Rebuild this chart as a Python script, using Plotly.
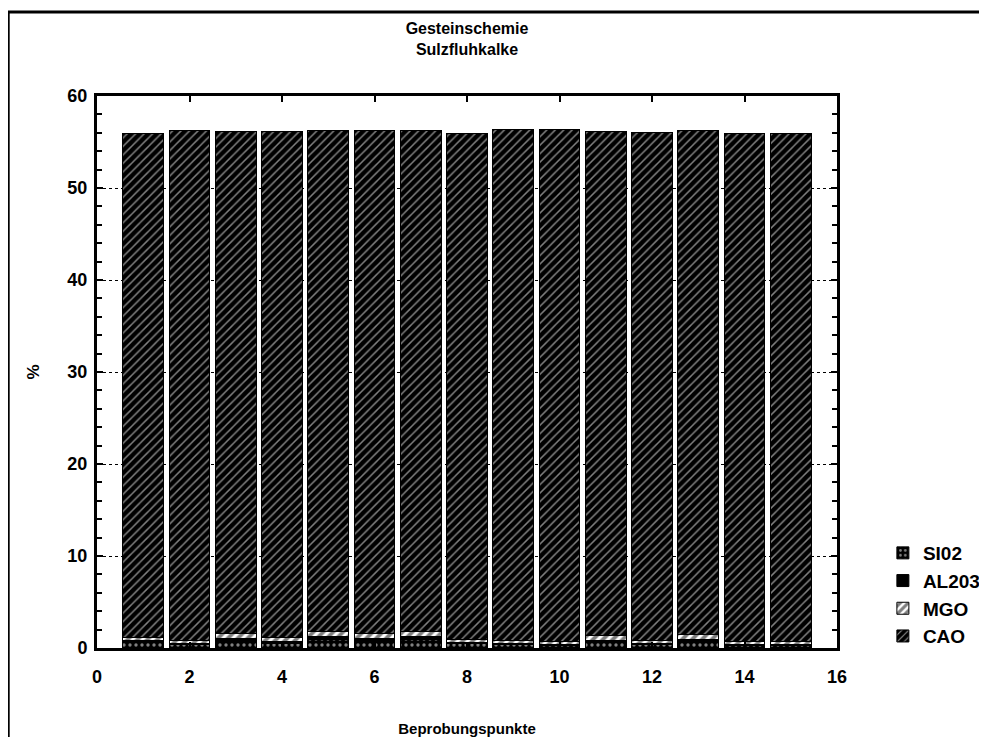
import plotly.graph_objects as go

# Sampling points
points = list(range(1, 16))

# Series values (%)
sio2 = [0.6, 0.4, 0.8, 0.5, 0.9, 0.8, 0.9, 0.5, 0.4, 0.3, 0.6, 0.4, 0.7, 0.3, 0.3]
al2o3 = [0.2, 0.1, 0.2, 0.2, 0.3, 0.2, 0.3, 0.1, 0.1, 0.1, 0.2, 0.1, 0.2, 0.1, 0.1]
mgo = [0.3, 0.3, 0.6, 0.4, 0.6, 0.6, 0.6, 0.3, 0.3, 0.3, 0.6, 0.3, 0.6, 0.3, 0.3]
cao = [54.8, 55.5, 54.5, 55.0, 54.5, 54.7, 54.5, 55.0, 55.6, 55.7, 54.7, 55.2, 54.8, 55.2, 55.2]

series_names = ["SI02", "AL203", "MGO", "CAO"]

FONT = "Liberation Sans"

fig = go.Figure()

styles = [
    dict(color="black", pattern=dict(shape=".", fgcolor="white", bgcolor="black", size=6, solidity=0.25)),
    dict(color="black"),
    dict(color="white", pattern=dict(shape="/", fgcolor="black", bgcolor="white", size=7, solidity=0.55)),
    dict(color="black", pattern=dict(shape="/", fgcolor="white", bgcolor="black", size=6, solidity=0.25)),
]

for name, vals, st in zip(series_names, [sio2, al2o3, mgo, cao], styles):
    marker = dict(st)
    marker["line"] = dict(color="black", width=1)
    fig.add_trace(go.Bar(x=points, y=vals, name=name, marker=marker,
                         width=0.88, legendgroup=name))

fig.update_layout(
    barmode="stack",
    width=971, height=729,
    paper_bgcolor="white", plot_bgcolor="white",
    margin=dict(l=89, r=142, t=88, b=89, autoexpand=False),
    font=dict(family=FONT, color="black"),
    title=dict(text="Gesteinschemie<br>Sulzfluhkalke", x=0.5, xref="paper", xanchor="center",
               y=0.964, yanchor="middle",
               font=dict(family=FONT, size=16, weight="bold", color="black")),
    legend=dict(x=1.062, xanchor="left", y=0.2065, yanchor="top", traceorder="normal",
                tracegroupgap=10, font=dict(family=FONT, size=19, weight="bold"),
                bgcolor="rgba(0,0,0,0)"),
    showlegend=True,
)

fig.update_xaxes(
    range=[0, 16], tickmode="linear", tick0=0, dtick=2,
    showline=True, linecolor="black", linewidth=3, mirror="ticks",
    ticks="inside", ticklen=6, tickwidth=2, tickcolor="black",
    showgrid=False, zeroline=False, automargin=False,
    tickfont=dict(family=FONT, size=18, weight="bold"),
    ticklabelstandoff=10,
    title=dict(text="Beprobungspunkte", standoff=40, font=dict(family=FONT, size=15, weight="bold")),
)

fig.update_yaxes(
    range=[0, 60], tickmode="linear", tick0=0, dtick=10,
    showline=True, linecolor="black", linewidth=3, mirror="ticks",
    ticks="inside", ticklen=6, tickwidth=2, tickcolor="black",
    minor=dict(dtick=2, ticks="inside", ticklen=5, tickwidth=2, tickcolor="black", showgrid=False),
    showgrid=True, gridcolor="black", griddash="dot", gridwidth=1,
    zeroline=False, automargin=False,
    tickfont=dict(family=FONT, size=18, weight="bold"),
    ticklabelstandoff=3,
    title=dict(text="%", standoff=24, font=dict(family=FONT, size=17, weight="bold")),
)

# scanned page frame lines
fig.add_shape(type="line", xref="paper", yref="paper", x0=-0.13, x1=1.2, y0=1.152, y1=1.152,
              line=dict(color="black", width=3))
fig.add_shape(type="line", xref="paper", yref="paper", x0=-0.12, x1=-0.12, y0=1.152, y1=-0.18,
              line=dict(color="black", width=3))

fig.write_html("out.html")
